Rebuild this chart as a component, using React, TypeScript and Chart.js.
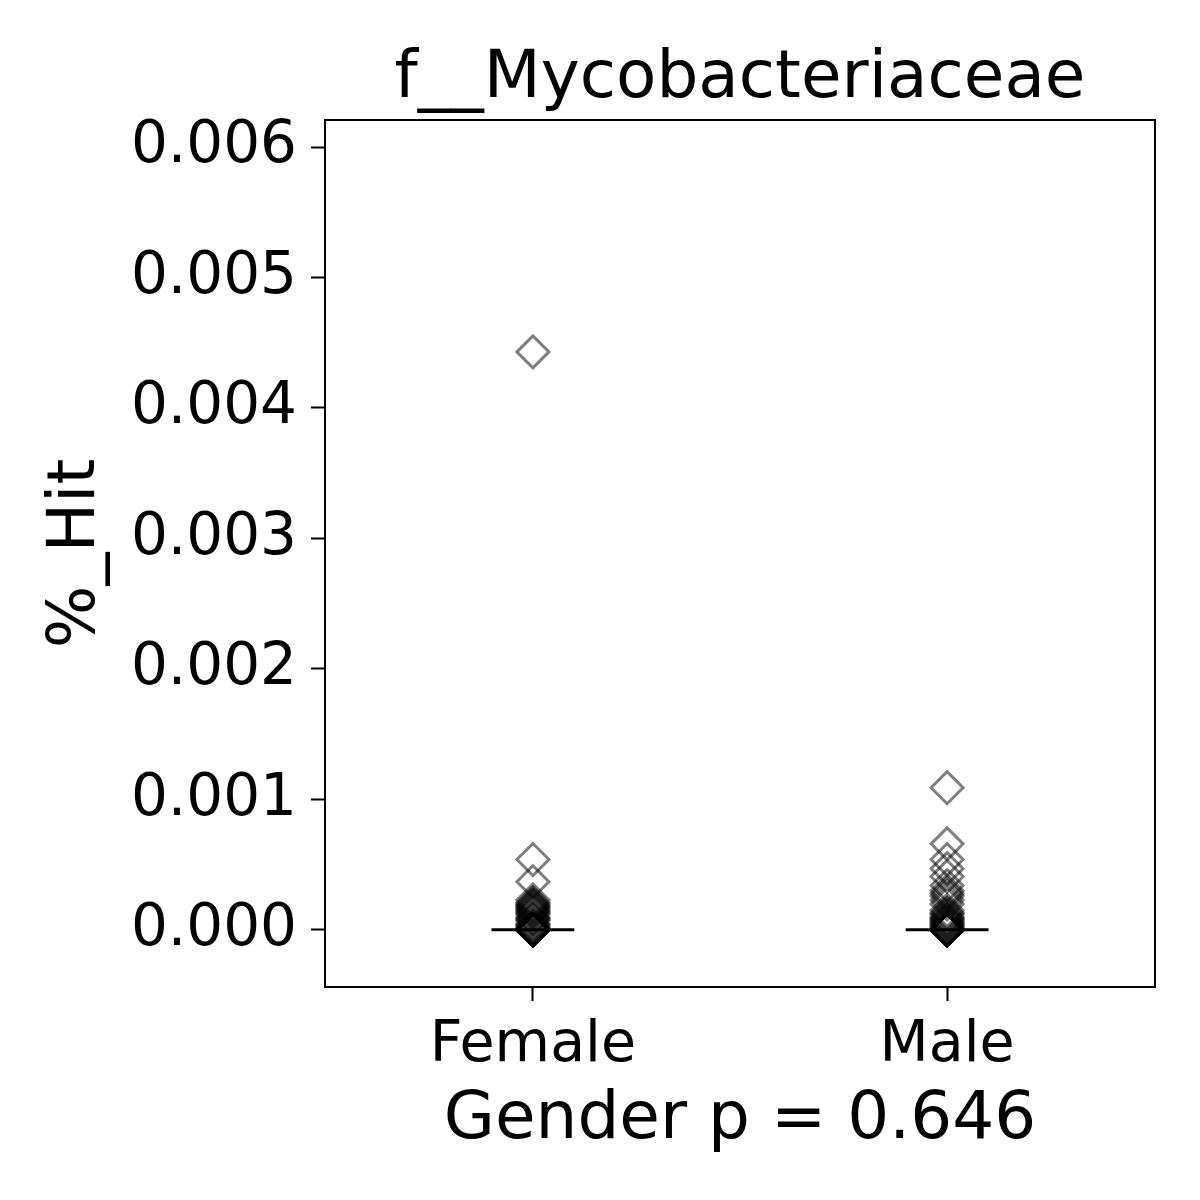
import React, { useEffect, useRef } from "react";
import { Chart, registerables } from "chart.js";

Chart.register(...registerables);

const chartTitle = "f__Mycobacteriaceae";
const categories = ["Female", "Male"];
const femaleValues = [
  0.00443, 0.00054, 0.00037, 0.00023, 0.00021, 0.0002, 0.00019, 0.00018, 0.00017, 0.00016,
  0.00015, 0.00014, 0.00013, 0.00012, 0.0001, 0.00009, 0.00008, 0.00007, 0.00005, 0.00004,
  0.00003, 0.00002, 0.00001, 0.000005,
  0, 0, 0, 0, 0, 0, 0, 0, 0, 0, 0, 0, 0, 0, 0, 0, 0, 0, 0, 0, 0, 0, 0, 0,
];
const maleValues = [
  0.00109, 0.00066, 0.00054, 0.00047, 0.00041, 0.00034, 0.0003, 0.00028, 0.00026, 0.00023,
  0.0002, 0.00015, 0.00013, 0.00012, 0.0001, 0.00009, 0.00008, 0.00007, 0.00006, 0.00005,
  0.00004, 0.00003, 0.00002, 0.00001, 0.000005,
  0, 0, 0, 0, 0, 0, 0, 0, 0, 0, 0, 0, 0, 0, 0, 0, 0, 0, 0, 0, 0, 0, 0, 0, 0,
];
const seriesValues = [femaleValues, maleValues];
const yTickValues = [0, 0.001, 0.002, 0.003, 0.004, 0.005, 0.006];
const xAxisLabel = "Gender p = 0.646";
const yAxisLabel = "%_Hit";

const FONT = "'DejaVu Sans', sans-serif";

function median(arr: number[]): number {
  const s = [...arr].sort((a, b) => a - b);
  const n = s.length;
  return n % 2 ? s[(n - 1) / 2] : (s[n / 2 - 1] + s[n / 2]) / 2;
}

export default function App() {
  const ref = useRef<HTMLCanvasElement | null>(null);

  useEffect(() => {
    if (!ref.current) return;
    const pointSets = seriesValues.map((vals, i) => ({
      type: "scatter" as const,
      label: categories[i],
      data: vals.map((v) => ({ x: i, y: v })),
      pointStyle: "rectRot" as const,
      pointRadius: 16,
      pointBorderWidth: 3,
      pointBorderColor: "rgba(0,0,0,0.5)",
      pointBackgroundColor: "rgba(0,0,0,0)",
      showLine: false,
      order: 2,
    }));
    const medianSets = seriesValues.map((vals, i) => {
      const m = median(vals);
      return {
        type: "line" as const,
        label: categories[i] + " median",
        data: [
          { x: i - 0.1, y: m },
          { x: i + 0.1, y: m },
        ],
        borderColor: "#000",
        borderWidth: 3,
        pointRadius: 0,
        order: 1,
      };
    });

    const frame = {
      id: "frame",
      afterDraw(chart: any) {
        const { ctx, chartArea } = chart;
        ctx.save();
        ctx.strokeStyle = "#000";
        ctx.lineWidth = 2;
        ctx.strokeRect(chartArea.left, chartArea.top, chartArea.right - chartArea.left, chartArea.bottom - chartArea.top);
        ctx.fillStyle = "#000";
        ctx.font = `66px ${FONT}`;
        ctx.textAlign = "center";
        ctx.textBaseline = "alphabetic";
        ctx.fillText(chartTitle, (chartArea.left + chartArea.right) / 2, 97);
        ctx.restore();
      },
    };

    const chart = new Chart(ref.current, {
      type: "scatter",
      data: { datasets: [...medianSets, ...pointSets] as any },
      options: {
        animation: false,
        responsive: false,
        devicePixelRatio: 1,
        layout: { padding: { top: 120, right: 45, bottom: 0, left: 0 } },
        plugins: { legend: { display: false }, tooltip: { enabled: false }, title: { display: false } },
        scales: {
          x: {
            type: "linear",
            min: -0.502,
            max: 1.502,
            afterBuildTicks: (s: any) => {
              s.ticks = categories.map((_, i) => ({ value: i }));
            },
            afterFit: (s: any) => {
              s.height = 213;
            },
            ticks: {
              callback: (v: any) => categories[Math.round(Number(v))] ?? "",
              color: "#000",
              font: { family: FONT, size: 57 },
              padding: 11,
              maxRotation: 0,
            },
            grid: { drawOnChartArea: false, drawTicks: true, tickLength: 14, tickWidth: 2, tickColor: "#000" },
            border: { display: false },
            title: {
              display: true,
              text: xAxisLabel,
              color: "#000",
              font: { family: FONT, size: 66 },
              padding: { top: 0, bottom: 40 },
            },
          },
          y: {
            type: "linear",
            min: -0.000437,
            max: 0.006207,
            afterBuildTicks: (s: any) => {
              s.ticks = yTickValues.map((v) => ({ value: v }));
            },
            afterFit: (s: any) => {
              s.width = 325;
            },
            ticks: {
              callback: (v: any) => Number(v).toFixed(3),
              color: "#000",
              font: { family: FONT, size: 58 },
              padding: 14,
            },
            grid: { drawOnChartArea: false, drawTicks: true, tickLength: 14, tickWidth: 2, tickColor: "#000" },
            border: { display: false },
            title: {
              display: true,
              text: yAxisLabel,
              color: "#000",
              font: { family: FONT, size: 66 },
              padding: { top: 37, bottom: 0 },
            },
          },
        },
      },
      plugins: [frame],
    });
    return () => chart.destroy();
  }, []);

  return (
    <div style={{ position: "absolute", left: 0, top: 0, width: 1200, height: 1200, background: "#fff" }}>
      <canvas ref={ref} width={1200} height={1200} style={{ width: 1200, height: 1200 }} />
    </div>
  );
}
